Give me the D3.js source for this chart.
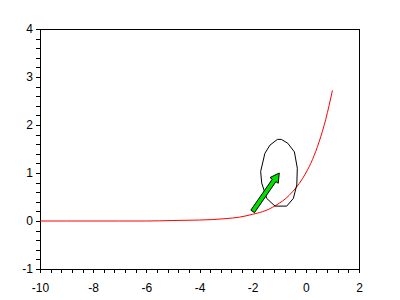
<!DOCTYPE html>
<html>
<head>
<meta charset="utf-8">
<script src="https://cdn.jsdelivr.net/npm/d3@7"></script>
<style>
    body { margin: 0; background: #fff; }
    svg { display: block; font-family: "Liberation Sans", Arial, sans-serif; }
    .axis text { font-size: 12px; fill: #000; }
    .axis line, .axis path { stroke: #000; shape-rendering: crispEdges; }
</style>
</head>
<body>
<div id="chart"></div>
<script>
const xTicks = [-10, -8, -6, -4, -2, 0, 2];
const yTicks = [-1, 0, 1, 2, 3, 4];

// red curve
const curveX = [-10, -9, -8, -7, -6, -5, -4, -3.5, -3, -2.5, -2, -1.5, -1, -0.75, -0.5, -0.25, 0, 0.25, 0.5, 0.75, 1];
const curveY = [0, 0, 0, 0, 0, 0.01, 0.02, 0.03, 0.05, 0.08, 0.14, 0.22, 0.37, 0.47, 0.61, 0.78, 1.0, 1.28, 1.65, 2.12, 2.72];

// black closed loop (polygon vertices)
const ringX = [-1.07, -0.92, -0.68, -0.43, -0.32, -0.34, -0.47, -0.72, -1.16, -1.47, -1.66, -1.70, -1.54, -1.35];
const ringY = [1.70, 1.70, 1.62, 1.44, 1.10, 0.75, 0.47, 0.31, 0.31, 0.47, 0.79, 1.03, 1.41, 1.58];

// green arrow
const arrowFrom = [-2, 0.2];
const arrowTo = [-1, 1];

const width = 400;
const height = 300;
const margin = { top: 29, right: 41, bottom: 31, left: 40 };

const svg = d3.select('#chart').append('svg')
    .attr('width', width)
    .attr('height', height);

const xScale = d3.scaleLinear().domain([-10, 2]).range([margin.left, width - margin.right]);
const yScale = d3.scaleLinear().domain([-1, 4]).range([height - margin.bottom, margin.top]);

const xMinor = d3.range(0, 31).map((i) => -10 + i * 0.4);
const yMinor = d3.range(0, 26).map((i) => -1 + i * 0.2);

// box
svg.append('rect')
    .attr('x', xScale(-10))
    .attr('y', yScale(4))
    .attr('width', xScale(2) - xScale(-10))
    .attr('height', yScale(-1) - yScale(4))
    .attr('fill', 'none')
    .attr('stroke', '#000')
    .attr('shape-rendering', 'crispEdges');

svg.append('g')
    .attr('class', 'axis')
    .attr('transform', `translate(0,${yScale(-1)})`)
    .call(d3.axisBottom(xScale).tickValues(xMinor).tickFormat('').tickSize(4).tickSizeOuter(0))
    .call((group) => group.select('.domain').remove());

svg.append('g')
    .attr('class', 'axis')
    .attr('transform', `translate(0,${yScale(-1)})`)
    .call(d3.axisBottom(xScale).tickValues(xTicks).tickFormat(d3.format('d')).tickSize(4).tickPadding(10))
    .call((group) => group.select('.domain').remove())
    .call((group) => group.selectAll('text').text((d) => String(d)));

svg.append('g')
    .attr('class', 'axis')
    .attr('transform', `translate(${xScale(-10)},0)`)
    .call(d3.axisLeft(yScale).tickValues(yMinor).tickFormat('').tickSize(4).tickSizeOuter(0))
    .call((group) => group.select('.domain').remove());

svg.append('g')
    .attr('class', 'axis')
    .attr('transform', `translate(${xScale(-10)},0)`)
    .call(d3.axisLeft(yScale).tickValues(yTicks).tickSize(4).tickPadding(3))
    .call((group) => group.select('.domain').remove())
    .call((group) => group.selectAll('text').text((d) => String(d)));

const curvePoints = curveX.map((x, i) => [x, curveY[i]]);
svg.append('path')
    .datum(curvePoints)
    .attr('fill', 'none')
    .attr('stroke', '#ff0000')
    .attr('stroke-width', 1)
    .attr('d', d3.line().x((d) => xScale(d[0])).y((d) => yScale(d[1])).curve(d3.curveMonotoneX));

const ringPoints = ringX.map((x, i) => [x, ringY[i]]);
svg.append('path')
    .datum(ringPoints)
    .attr('fill', 'none')
    .attr('stroke', '#000')
    .attr('stroke-width', 1)
    .attr('d', d3.line().x((d) => xScale(d[0])).y((d) => yScale(d[1])).curve(d3.curveLinearClosed));

// arrow outline built in screen space from the two data points
const x0 = xScale(arrowFrom[0]);
const y0 = yScale(arrowFrom[1]);
const x1 = xScale(arrowTo[0]);
const y1 = yScale(arrowTo[1]);
const len = Math.hypot(x1 - x0, y1 - y0);
const ux = (x1 - x0) / len;
const uy = (y1 - y0) / len;
const nx = -uy;
const ny = ux;
const shaftHalf = 2.2;
const headHalf = 5;
const headLen = 9;
const bx = x1 - ux * headLen;
const by = y1 - uy * headLen;
const arrowShape = [
    [x0 + nx * shaftHalf, y0 + ny * shaftHalf],
    [bx + nx * shaftHalf, by + ny * shaftHalf],
    [bx + nx * headHalf, by + ny * headHalf],
    [x1, y1],
    [bx - nx * headHalf, by - ny * headHalf],
    [bx - nx * shaftHalf, by - ny * shaftHalf],
    [x0 - nx * shaftHalf, y0 - ny * shaftHalf]
];

svg.append('path')
    .attr('d', d3.line().curve(d3.curveLinearClosed)(arrowShape))
    .attr('fill', '#00e000')
    .attr('stroke', '#000')
    .attr('stroke-width', 1)
    .attr('stroke-linejoin', 'round');
</script>
</body>
</html>
